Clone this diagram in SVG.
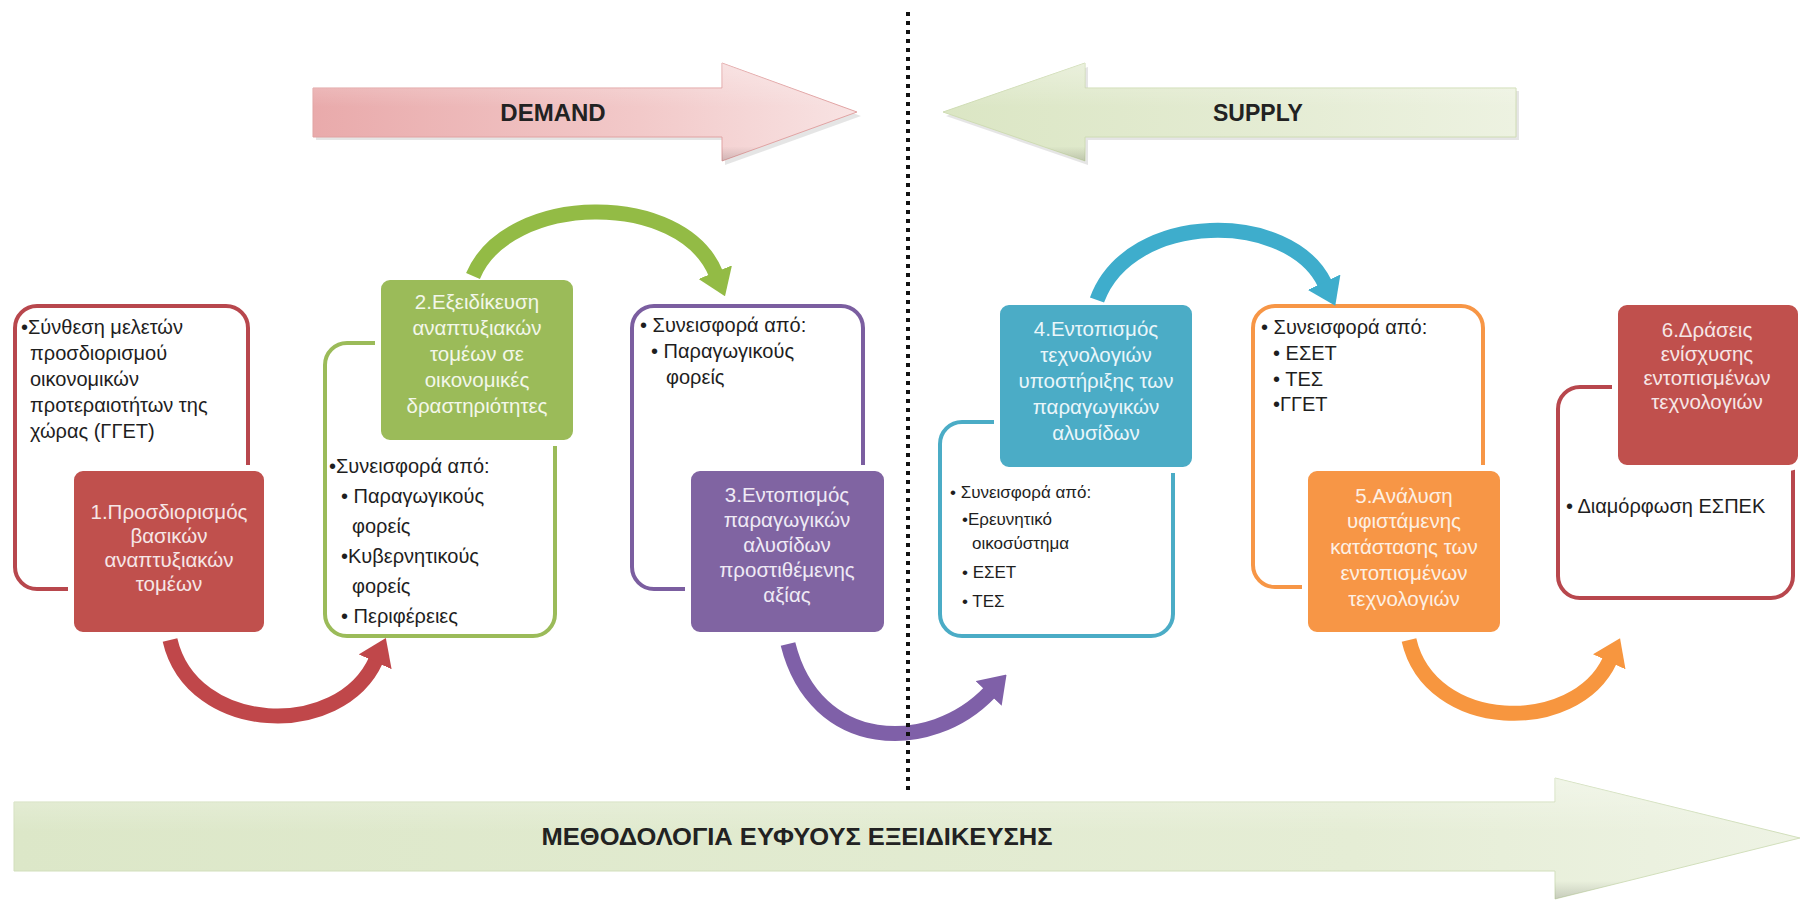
<svg xmlns="http://www.w3.org/2000/svg" width="1804" height="901" viewBox="0 0 1804 901">
<defs>
<style>
.t{font-family:"Liberation Sans","DejaVu Sans",sans-serif;font-size:20px;fill:#1e1e1e}
.s{font-size:17px}
.w{font-family:"Liberation Sans","DejaVu Sans",sans-serif;font-size:20.5px;text-anchor:middle}
.big{font-family:"Liberation Sans","DejaVu Sans",sans-serif;font-weight:bold;fill:#222;text-anchor:middle}
.ol{fill:#fff;stroke-width:4}
.fb{stroke:#fff;stroke-width:6}
.arc{fill:none;stroke-width:15}
</style>
<linearGradient id="gDem" x1="0" y1="0" x2="1" y2="0">
<stop offset="0" stop-color="#e9aaab"/><stop offset="0.6" stop-color="#f2c9c9"/><stop offset="1" stop-color="#f8e3e3"/>
</linearGradient>
<linearGradient id="gSup" x1="0" y1="0" x2="1" y2="0">
<stop offset="0" stop-color="#dbe6c4"/><stop offset="0.5" stop-color="#e3ebd1"/><stop offset="1" stop-color="#edf2e1"/>
</linearGradient>
<linearGradient id="gBot" x1="0" y1="0" x2="1" y2="0">
<stop offset="0" stop-color="#dce7c8"/><stop offset="0.75" stop-color="#e5edd5"/><stop offset="1" stop-color="#eef3e4"/>
</linearGradient>
<linearGradient id="gShade" x1="0" y1="0" x2="0" y2="1">
<stop offset="0" stop-color="#fff" stop-opacity="0.35"/><stop offset="0.45" stop-color="#fff" stop-opacity="0"/><stop offset="0.85" stop-color="#000" stop-opacity="0"/><stop offset="1" stop-color="#000" stop-opacity="0.15"/>
</linearGradient>
<marker id="mR" markerUnits="userSpaceOnUse" viewBox="0 0 26 36" markerWidth="26" markerHeight="36" refX="2" refY="18" orient="auto"><path d="M0,0 L26,18 L0,36 z" fill="#c0474a"/></marker>
<marker id="mG" markerUnits="userSpaceOnUse" viewBox="0 0 26 36" markerWidth="26" markerHeight="36" refX="2" refY="18" orient="auto"><path d="M0,0 L26,18 L0,36 z" fill="#93bb45"/></marker>
<marker id="mP" markerUnits="userSpaceOnUse" viewBox="0 0 26 36" markerWidth="26" markerHeight="36" refX="2" refY="18" orient="auto"><path d="M0,0 L26,18 L0,36 z" fill="#7f60a8"/></marker>
<marker id="mT" markerUnits="userSpaceOnUse" viewBox="0 0 26 36" markerWidth="26" markerHeight="36" refX="2" refY="18" orient="auto"><path d="M0,0 L26,18 L0,36 z" fill="#3eadcc"/></marker>
<marker id="mO" markerUnits="userSpaceOnUse" viewBox="0 0 26 36" markerWidth="26" markerHeight="36" refX="2" refY="18" orient="auto"><path d="M0,0 L26,18 L0,36 z" fill="#f7963f"/></marker>
</defs>
<rect width="1804" height="901" fill="#fff"/>

<g id="demand-arrow">
<polygon points="316,91 725,91 725,67 861,116 725,165 725,140 316,140" fill="#999" opacity="0.25"/>
<polygon points="313,88 722,88 722,63 857,112 722,161 722,137 313,137" fill="url(#gDem)" stroke="#e1a3a3" stroke-width="1"/>
<polygon points="313,88 722,88 722,63 857,112 722,161 722,137 313,137" fill="url(#gShade)"/>
<text class="big" x="553" y="121" font-size="24">DEMAND</text>
</g>

<g id="supply-arrow">
<polygon points="946,116 1088,67 1088,91 1519,91 1519,140 1088,140 1088,165" fill="#999" opacity="0.25"/>
<polygon points="943,112 1085,63 1085,88 1516,88 1516,137 1085,137 1085,161" fill="url(#gSup)" stroke="#cfdcb4" stroke-width="1"/>
<polygon points="943,112 1085,63 1085,88 1516,88 1516,137 1085,137 1085,161" fill="url(#gShade)"/>
<text class="big" x="1258" y="121" font-size="23">SUPPLY</text>
</g>

<g id="methodology-arrow">
<polygon points="14,802 1555,802 1555,778 1800,838 1555,899 1555,871 14,871" fill="url(#gBot)" stroke="#d2dfbc" stroke-width="1"/>
<polygon points="14,802 1555,802 1555,778 1800,838 1555,899 1555,871 14,871" fill="url(#gShade)"/>
<text class="big" x="797" y="845" font-size="24" textLength="511" lengthAdjust="spacingAndGlyphs">ΜΕΘΟΔΟΛΟΓΙΑ ΕΥΦΥΟΥΣ ΕΞΕΙΔΙΚΕΥΣΗΣ</text>
</g>

<g id="node1">
<rect class="ol" x="15" y="306" width="233" height="283" rx="22" stroke="#b8474d"/>
<text class="t" x="21" y="334" font-size="21">•Σύνθεση μελετών</text>
<text class="t" x="30" y="360" font-size="21">προσδιορισμού</text>
<text class="t" x="30" y="386" font-size="21">οικονομικών</text>
<text class="t" x="30" y="412" font-size="21">προτεραιοτήτων της</text>
<text class="t" x="30" y="438" font-size="21">χώρας (ΓΓΕΤ)</text>
<rect class="fb" x="71" y="468" width="196" height="167" rx="12" fill="#c0504d"/>
<text class="w" fill="#f6e6e6"><tspan x="169" y="519">1.Προσδιορισμός</tspan><tspan x="169" y="543">βασικών</tspan><tspan x="169" y="567">αναπτυξιακών</tspan><tspan x="169" y="591">τομέων</tspan></text>
</g>

<g id="node2">
<rect class="ol" x="325" y="343" width="230" height="293" rx="22" stroke="#9bbb59"/>
<rect class="fb" x="378" y="277" width="198" height="166" rx="12" fill="#9bbb59"/>
<text class="w" fill="#f3f7ea"><tspan x="477" y="309">2.Εξειδίκευση</tspan><tspan x="477" y="335">αναπτυξιακών</tspan><tspan x="477" y="361">τομέων σε</tspan><tspan x="477" y="387">οικονομικές</tspan><tspan x="477" y="413">δραστηριότητες</tspan></text>
<text class="t" x="329" y="473">•Συνεισφορά από:</text>
<text class="t" x="341" y="503">• Παραγωγικούς</text>
<text class="t" x="352" y="533">φορείς</text>
<text class="t" x="341" y="563">•Κυβερνητικούς</text>
<text class="t" x="352" y="593">φορείς</text>
<text class="t" x="341" y="623">• Περιφέρειες</text>
</g>

<g id="node3">
<rect class="ol" x="632" y="306" width="231" height="283" rx="22" stroke="#7b5ea0"/>
<text class="t" x="640" y="332">• Συνεισφορά από:</text>
<text class="t" x="651" y="358">• Παραγωγικούς</text>
<text class="t" x="666" y="384">φορείς</text>
<rect class="fb" x="688" y="468" width="199" height="167" rx="12" fill="#8064a2"/>
<text class="w" fill="#efeaf5"><tspan x="787" y="502">3.Εντοπισμός</tspan><tspan x="787" y="527">παραγωγικών</tspan><tspan x="787" y="552">αλυσίδων</tspan><tspan x="787" y="577">προστιθέμενης</tspan><tspan x="787" y="602">αξίας</tspan></text>
</g>

<g id="node4">
<rect class="ol" x="940" y="422" width="233" height="214" rx="22" stroke="#4bacc6"/>
<rect class="fb" x="997" y="302" width="198" height="168" rx="12" fill="#4bacc6"/>
<text class="w" fill="#eaf6fa"><tspan x="1096" y="336">4.Εντοπισμός</tspan><tspan x="1096" y="362">τεχνολογιών</tspan><tspan x="1096" y="388">υποστήριξης των</tspan><tspan x="1096" y="414">παραγωγικών</tspan><tspan x="1096" y="440">αλυσίδων</tspan></text>
<text class="t s" x="950" y="498">• Συνεισφορά από:</text>
<text class="t s" x="962" y="525">•Ερευνητικό</text>
<text class="t s" x="972" y="549">οικοσύστημα</text>
<text class="t s" x="962" y="578">• ΕΣΕΤ</text>
<text class="t s" x="962" y="607">• ΤΕΣ</text>
</g>

<g id="node5">
<rect class="ol" x="1253" y="306" width="230" height="281" rx="22" stroke="#f79646"/>
<text class="t" x="1261" y="334">• Συνεισφορά από:</text>
<text class="t" x="1273" y="360">• ΕΣΕΤ</text>
<text class="t" x="1273" y="386">• ΤΕΣ</text>
<text class="t" x="1273" y="411">•ΓΓΕΤ</text>
<rect class="fb" x="1305" y="468" width="198" height="167" rx="12" fill="#f79646"/>
<text class="w" fill="#fdf0e4"><tspan x="1404" y="503">5.Ανάλυση</tspan><tspan x="1404" y="528">υφιστάμενης</tspan><tspan x="1404" y="554">κατάστασης των</tspan><tspan x="1404" y="580">εντοπισμένων</tspan><tspan x="1404" y="606">τεχνολογιών</tspan></text>
</g>

<g id="node6">
<rect class="ol" x="1558" y="387" width="235" height="211" rx="22" stroke="#b8474d"/>
<rect class="fb" x="1615" y="302" width="186" height="166" rx="12" fill="#c0504d"/>
<text class="w" fill="#f6e6e6"><tspan x="1707" y="337">6.Δράσεις</tspan><tspan x="1707" y="361">ενίσχυσης</tspan><tspan x="1707" y="385">εντοπισμένων</tspan><tspan x="1707" y="409">τεχνολογιών</tspan></text>
<text class="t" x="1566" y="513">• Διαμόρφωση ΕΣΠΕΚ</text>
</g>

<g id="connectors">
<path class="arc" d="M170,640 C192,735 340,740 376,660" stroke="#c0474a" marker-end="url(#mR)"/>
<path class="arc" d="M473,276 C508,192 682,190 716,274" stroke="#93bb45" marker-end="url(#mG)"/>
<path class="arc" d="M788,644 C815,752 930,755 990,692" stroke="#7f60a8" marker-end="url(#mP)"/>
<path class="arc" d="M1097,300 C1130,210 1290,210 1325,284" stroke="#3eadcc" marker-end="url(#mT)"/>
<path class="arc" d="M1409,640 C1430,732 1575,736 1610,660" stroke="#f7963f" marker-end="url(#mO)"/>
</g>

<g id="divider">
<line x1="908" y1="12" x2="908" y2="792" stroke="#111" stroke-width="4" stroke-dasharray="4 5"/>
</g>
</svg>
